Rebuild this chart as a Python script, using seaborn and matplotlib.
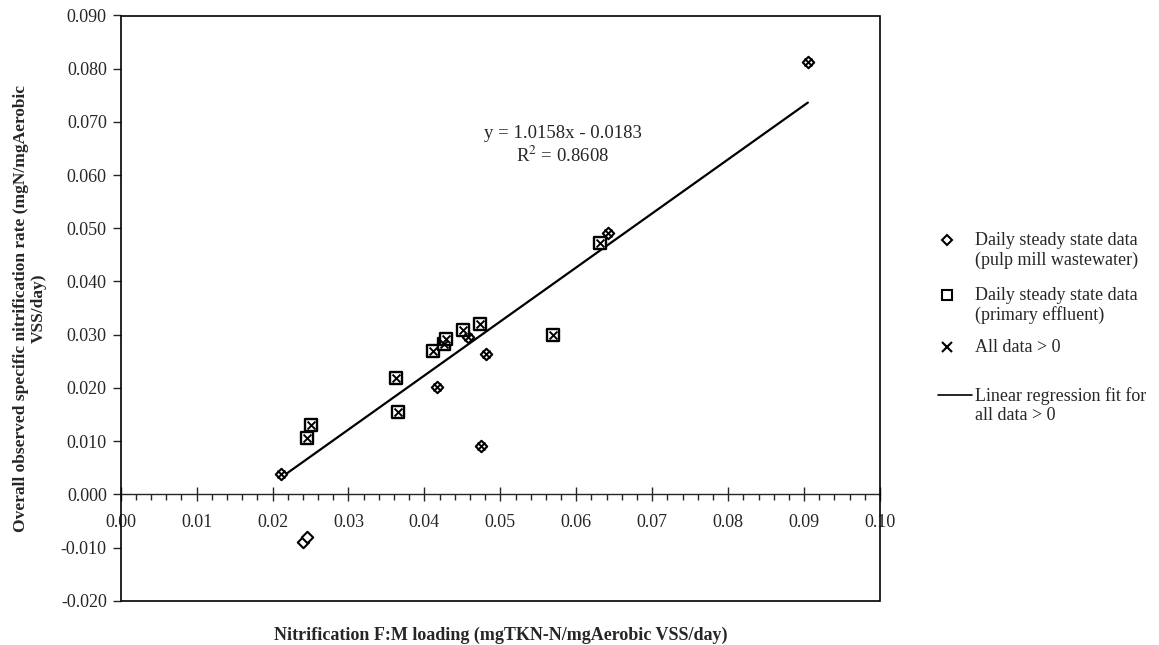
import numpy as np
import matplotlib
matplotlib.use('Agg')
from matplotlib import pyplot as plt
from matplotlib.lines import Line2D
from matplotlib.patches import Rectangle
from matplotlib.ticker import MultipleLocator, FormatStrFormatter
import seaborn as sns

# daily steady state data (pulp mill wastewater)
pulp_x = [0.0240, 0.0245, 0.0211, 0.0416, 0.0457, 0.0481, 0.0475, 0.0642, 0.0905]
pulp_y = [-0.0089, -0.0080, 0.0038, 0.0202, 0.0295, 0.0263, 0.0091, 0.0491, 0.0813]

# daily steady state data (primary effluent)
prim_x = [0.0251, 0.0245, 0.0365, 0.0363, 0.0411, 0.0426, 0.0428, 0.0451, 0.0473, 0.0569, 0.0631]
prim_y = [0.0130, 0.0106, 0.0154, 0.0219, 0.0269, 0.0282, 0.0291, 0.0309, 0.0321, 0.0299, 0.0472]

# regression reported on the chart
slope = 1.0158
intercept = -0.0183
r2 = 0.8608

all_x = np.array([x for x, y in zip(pulp_x + prim_x, pulp_y + prim_y) if y > 0])
all_y = np.array([y for y in pulp_y + prim_y if y > 0])

sns.set_style('white')
plt.rcParams['font.family'] = ['Liberation Serif', 'DejaVu Serif']
plt.rcParams['mathtext.fontset'] = 'stix'

W, H = 1159, 645
L, R, T, B = 120.7, 880, 15.5, 600.7
fig = plt.figure(figsize=(W / 100, H / 100), dpi=100)
ax = fig.add_axes([L / W, 1 - B / H, (R - L) / W, (B - T) / H])

sns.scatterplot(x=pulp_x, y=pulp_y, marker='D', s=34, facecolor='white',
                edgecolor='black', linewidth=1.5, ax=ax, zorder=3)
sns.scatterplot(x=prim_x, y=prim_y, marker='s', s=72, facecolor='white',
                edgecolor='black', linewidth=1.7, ax=ax, zorder=3)
sns.scatterplot(x=all_x, y=all_y, marker='x', s=32, color='black',
                linewidth=1.4, ax=ax, zorder=4)

xfit = np.array([all_x.min(), all_x.max()])
ax.plot(xfit, slope * xfit + intercept, color='black', lw=1.6, zorder=2)

ax.text(0.0582, 0.0656, 'y = %.4fx - %.4f\nR$^2$ = %.4f' % (slope, -intercept, r2),
        ha='center', va='center', fontsize=13.5, linespacing=1.25)

ax.set_xlim(0, 0.10)
ax.set_ylim(-0.020, 0.090)
ax.xaxis.set_major_locator(MultipleLocator(0.01))
ax.xaxis.set_minor_locator(MultipleLocator(0.002))
ax.yaxis.set_major_locator(MultipleLocator(0.01))
ax.xaxis.set_major_formatter(FormatStrFormatter('%.2f'))
ax.yaxis.set_major_formatter(FormatStrFormatter('%.3f'))

for side in ['top', 'right', 'left']:
    ax.spines[side].set_visible(False)
ax.spines['bottom'].set_position(('data', 0))
ax.spines['bottom'].set_linewidth(1.0)
ax.add_patch(Rectangle((0, 0), 1, 1, transform=ax.transAxes, fill=False,
                       edgecolor='black', lw=1.2, zorder=5, clip_on=False))

ax.tick_params(axis='x', which='major', direction='inout', length=10, width=1,
               pad=9, labelsize=13, bottom=True)
ax.tick_params(axis='x', which='minor', direction='out', length=4, width=1, bottom=True)
ax.tick_params(axis='y', which='major', direction='out', length=6, width=1,
               pad=4, labelsize=13, left=True)

ax.set_xlabel('Nitrification F:M loading (mgTKN-N/mgAerobic VSS/day)',
              fontsize=13, fontweight='bold')
ax.xaxis.set_label_coords(0.5, -0.045)
ax.set_ylabel('Overall observed specific nitrification rate (mgN/mgAerobic\nVSS/day)',
              fontsize=12.5, fontweight='bold', linespacing=1.2)
ax.yaxis.set_label_coords(-0.097, 0.5)

# legend drawn at the right of the plot
leg_fs = 13
pitch = 21
mk_x, tx_x = 947 / W, 975 / W
entries = [
    ('D', 'Daily steady state data\n(pulp mill wastewater)', 240),
    ('s', 'Daily steady state data\n(primary effluent)', 295),
    ('x', 'All data > 0', 347),
    ('-', 'Linear regression fit for\nall data > 0', 395),
]
for mk, label, ypx in entries:
    yf = 1 - ypx / H
    if mk == '-':
        fig.add_artist(Line2D([938 / W, 972 / W], [yf, yf], color='black', lw=1.2))
    else:
        fig.add_artist(Line2D([mk_x], [yf], marker=mk,
                              markersize=6.5 if mk != 'D' else 5.5,
                              markerfacecolor='white', markeredgecolor='black',
                              markeredgewidth=1.5, linestyle='none'))
    n = label.count('\n')
    yc = 1 - (ypx + n * pitch / 2) / H
    fig.text(tx_x, yc, label, va='center', ha='left', fontsize=leg_fs,
             linespacing=1.15)

fig.savefig('out.png', dpi=100)
